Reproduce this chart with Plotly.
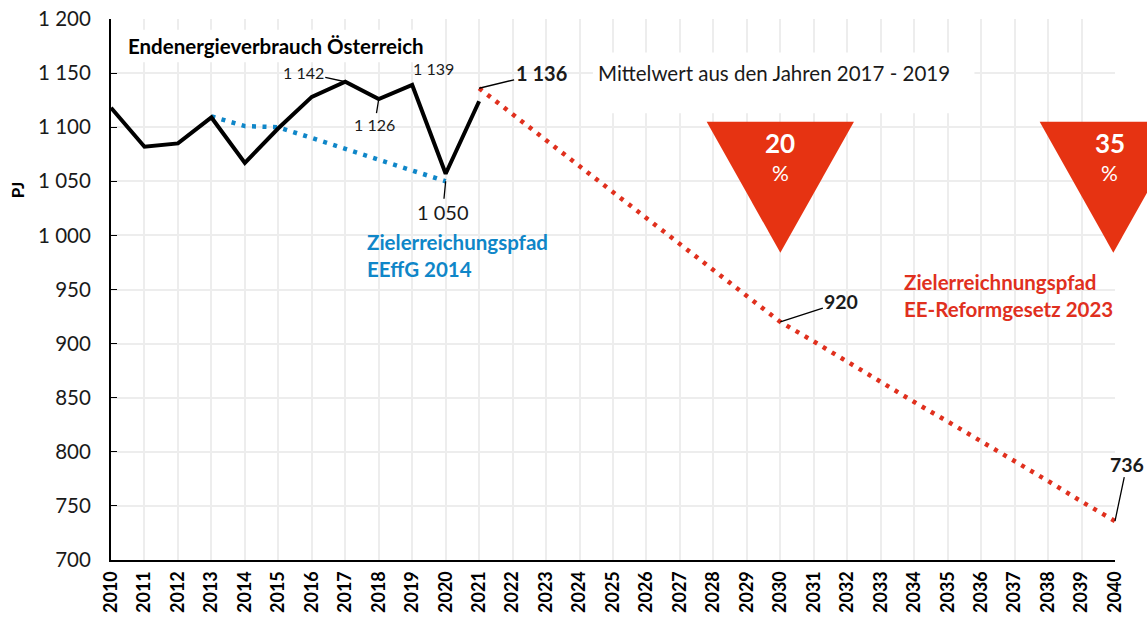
import plotly.graph_objects as go

# ---- data ----
years_actual = [2010, 2011, 2012, 2013, 2014, 2015, 2016, 2017, 2018, 2019, 2020, 2021]
consumption = [1118, 1082, 1085, 1109, 1067, 1099, 1128, 1142, 1126, 1139, 1057, 1124]

years_eeffg = [2013, 2014, 2015, 2016, 2017, 2018, 2019, 2020]
path_eeffg = [1110, 1101, 1100, 1090, 1081, 1071, 1061, 1050]

years_reform = list(range(2021, 2041))
path_reform = [1136, 1112, 1088, 1064, 1040, 1016, 992, 968, 944, 920,
               902, 883, 865, 846, 828, 810, 791, 773, 754, 736]

y_ticks = [700, 750, 800, 850, 900, 950, 1000, 1050, 1100, 1150, 1200]
y_ticktext = ["700", "750", "800", "850", "900", "950", "1 000", "1 050", "1 100", "1 150", "1 200"]
x_ticks = list(range(2010, 2041))

targets_year = [2030, 2040]
targets_pct = ["20", "35"]

XMIN, XMAX = 2010, 2040
YMIN, YMAX = 700, 1200

FONT = "Lato"
BLACK = "#000000"
TXT = "#1a1a1a"
BLUE = "#0F86C8"
RED = "#E0301E"
TRI = "#E63312"

fig = go.Figure()

fig.add_trace(go.Scatter(x=years_eeffg, y=path_eeffg, mode="lines",
                         line=dict(color=BLUE, width=4.5, dash="4px,6.5px"),
                         hoverinfo="skip", showlegend=False))
fig.add_trace(go.Scatter(x=years_reform, y=path_reform, mode="lines",
                         line=dict(color=RED, width=4.5, dash="4px,6.5px"),
                         hoverinfo="skip", showlegend=False))
fig.add_trace(go.Scatter(x=years_actual, y=consumption, mode="lines",
                         line=dict(color=BLACK, width=4),
                         hoverinfo="skip", showlegend=False))


def fx(x):
    return (x - XMIN) / (XMAX - XMIN)


def fy(y):
    return (y - YMIN) / (YMAX - YMIN)


shapes = []
# white box behind "Mittelwert" text (covers gridlines)
shapes.append(dict(type="rect", xref="x", yref="y", x0=2024.4, x1=2035.8, y0=1113, y1=1169,
                   fillcolor="white", line=dict(width=0), layer="between"))
# white box behind title
shapes.append(dict(type="rect", xref="x", yref="y", x0=2010.3, x1=2019.8, y0=1160, y1=1190,
                   fillcolor="white", line=dict(width=0), layer="between"))

half_w = 2.2
tri_top, tri_tip = 1105, 984
for ty in targets_year:
    cx = ty - 0.05 if ty == 2040 else ty
    p = "M {a},{t} L {b},{t} L {c},{p} Z".format(
        a=fx(cx - half_w), b=fx(cx + half_w), c=fx(cx), t=fy(tri_top), p=fy(tri_tip))
    shapes.append(dict(type="path", xref="x domain", yref="y domain", path=p,
                       fillcolor=TRI, line=dict(width=0), layer="above"))

annotations = []


def lab(x, y, text, ax, ay, bold=False, size=16):
    annotations.append(dict(
        x=x, y=y, xref="x", yref="y", text=("<b>%s</b>" % text) if bold else text,
        showarrow=True, arrowhead=0, arrowwidth=1.3, arrowcolor=BLACK,
        ax=ax, ay=ay, standoff=0, font=dict(family=FONT, size=size, color=TXT)))


lab(2017, 1142, "1 142", -42, -9)
lab(2018, 1126, "1 126", -4, 25)
lab(2020, 1050, "1 050", -3, 31, size=20)
lab(2021, 1136, "1 136", 62, -15, bold=True, size=20)
lab(2030, 920, "920", 61, -20, bold=True, size=19.5)
lab(2040, 736, "736", 12, -57, bold=True, size=19.5)

annotations.append(dict(x=2019, y=1139, xref="x", yref="y", text="1 139", showarrow=False,
                        xshift=21, yshift=17, font=dict(family=FONT, size=16, color=TXT)))
annotations.append(dict(x=2010.45, y=1175, xref="x", yref="y", xanchor="left",
                        text="<b>Endenergieverbrauch Österreich</b>", showarrow=False,
                        font=dict(family=FONT, size=20.5, color=BLACK)))
annotations.append(dict(x=2024.5, y=1150, xref="x", yref="y", xanchor="left",
                        text="Mittelwert aus den Jahren 2017 - 2019", showarrow=False,
                        font=dict(family=FONT, size=20.5, color=TXT)))
annotations.append(dict(x=2017.6, y=981, xref="x", yref="y", xanchor="left", align="left",
                        text="<b>Zielerreichungspfad<br>EEffG 2014</b>", showarrow=False,
                        font=dict(family=FONT, size=20.5, color=BLUE)))
annotations.append(dict(x=2033.65, y=944, xref="x", yref="y", xanchor="left", align="left",
                        text="<b>Zielerreichnungspfad<br>EE-Reformgesetz 2023</b>", showarrow=False,
                        font=dict(family=FONT, size=20.5, color=RED)))
for ty, pct in zip(targets_year, targets_pct):
    cx = ty - 0.15 if ty == 2040 else ty
    annotations.append(dict(x=cx, y=1085, xref="x", yref="y", text="<b>%s</b>" % pct,
                            showarrow=False, font=dict(family=FONT, size=26, color="white")))
    annotations.append(dict(x=cx, y=1058.5, xref="x", yref="y", text="%",
                            showarrow=False, font=dict(family=FONT, size=21, color="white")))
annotations.append(dict(x=-0.093, y=0.683, xref="paper", yref="paper", text="<b>PJ</b>",
                        xanchor="center", yanchor="middle",
                        textangle=-90, showarrow=False,
                        font=dict(family=FONT, size=17, color=BLACK)))

fig.update_layout(
    width=1147, height=619,
    margin=dict(l=111, r=32, t=19, b=59, autoexpand=False),
    paper_bgcolor="white", plot_bgcolor="white",
    shapes=shapes, annotations=annotations,
    xaxis=dict(range=[XMIN, XMAX], tickvals=x_ticks, ticktext=[str(v) for v in x_ticks],
               tickangle=-90, showgrid=True, gridcolor="#EDEDED", gridwidth=1.5,
               showline=True, linecolor=BLACK, linewidth=2, ticks="", zeroline=False,
               ticklabelstandoff=2, automargin=False, ticklabeloverflow="allow",
               tickfont=dict(family=FONT, size=18, color=BLACK, weight="bold")),
    yaxis=dict(range=[YMIN, YMAX], tickvals=y_ticks, ticktext=y_ticktext,
               showgrid=True, gridcolor="#EDEDED", gridwidth=1.5,
               showline=True, linecolor=BLACK, linewidth=2, ticks="inside", ticklen=6,
               tickcolor=BLACK, zeroline=False, ticklabelstandoff=14, automargin=False,
               ticklabeloverflow="allow",
               tickfont=dict(family=FONT, size=20.5, color=TXT)),
)

# remove the browser's default 8px page margin so the figure fills the window exactly
fig.write_html("out.html", config={"displayModeBar": False},
               post_script="document.body.style.margin='0';document.body.style.overflow='hidden';")
